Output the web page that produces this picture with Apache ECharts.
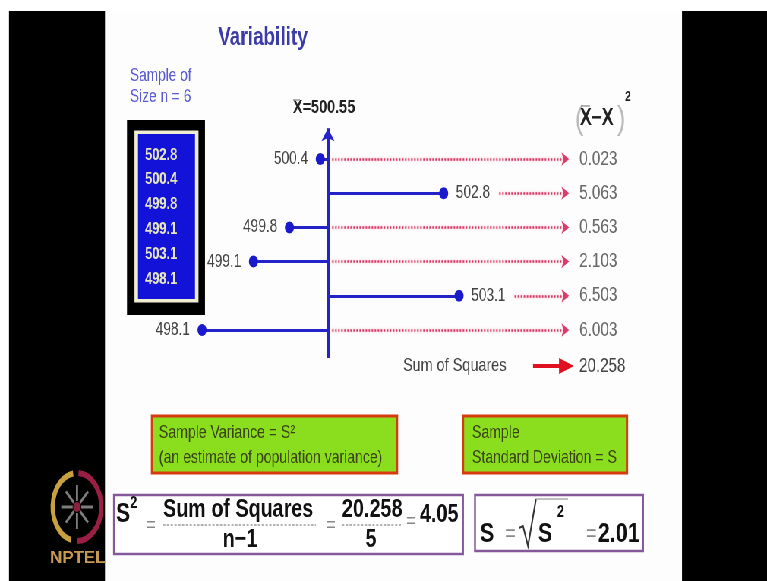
<!DOCTYPE html>
<html><head><meta charset="utf-8">
<script src="https://cdn.jsdelivr.net/npm/echarts@6/dist/echarts.min.js"></script>
<style>
html,body{margin:0;padding:0;background:#fff;overflow:hidden;}
#wrap{width:767px;height:581px;overflow:hidden;position:relative;}
#chart{width:1010px;height:581px;transform:scaleX(0.759406);transform-origin:0 0;}
</style></head>
<body><div id="wrap"><div id="chart"></div></div>
<script>
// ---- data ----
const rowValues = [500.4, 502.8, 499.8, 499.1, 503.1, 498.1];      // plotted rows, top to bottom
const sampleValues = [502.8, 500.4, 499.8, 499.1, 503.1, 498.1];   // list in the sample box
const squaredDeviations = ['0.023', '5.063', '0.563', '2.103', '6.503', '6.003'];
const meanValue = 500.55;
const sampleSize = 6;
const sumOfSquares = '20.258';
const divisorText = '5';
const varianceText = '4.05';
const sdText = '2.01';

// ---- layout helpers (slide is squeezed horizontally) ----
const SQ = 767 / 1010;
const X = p => p / SQ;
const FONT = '"Liberation Sans", Arial, sans-serif';
const ARROW_END = 505.24;

function rect(x, y, w, h, fill, stroke, lw, z) {
  return { type: 'rect', silent: true, z: z || 0, shape: { x: X(x), y: y, width: X(w), height: h },
    style: { fill: fill || 'none', stroke: stroke || 'none', lineWidth: lw || 0 } };
}
function txt(x, y, text, size, o) {
  o = o || {};
  return { type: 'text', silent: true, x: X(x), y: y, z: o.z || 6, scaleX: o.sx || 1,
    style: { text: text, fontSize: size, fontWeight: o.w || 'normal', fontFamily: FONT,
      fill: o.c || '#222', align: o.a || 'left', textAlign: o.a || 'left',
      verticalAlign: 'middle', textVerticalAlign: 'middle' } };
}
function seg(x1, y1, x2, y2, color, lw, dash, z) {
  return { type: 'line', silent: true, z: z || 6, shape: { x1: X(x1), y1: y1, x2: X(x2), y2: y2 },
    style: { stroke: color, lineWidth: lw, lineDash: dash || null } };
}

const g = [];
// frame
g.push(rect(105, 11, 577, 570, '#fdfdfd'));
g.push(rect(9, 11, 96, 570, '#000'));
g.push(rect(682, 11, 90, 570, '#000'));
// title
g.push(txt(263, 38, 'Variability', 25, { w: 'bold', c: '#3c3ca8', a: 'center' }));
g.push(txt(130, 76, 'Sample of', 18, { c: '#5a5ad2' }));
g.push(txt(130, 97, 'Size n = ' + sampleSize, 18, { c: '#5a5ad2' }));
// sample box
g.push(rect(127, 120, 78, 195, '#000'));
g.push(rect(134.5, 130.5, 64, 172, '#efeed2'));
g.push(rect(138, 134, 57, 165, '#1212d8'));
sampleValues.forEach((v, i) => g.push(txt(145, 155 + i * 24.8, v.toFixed(1), 17, { w: 'bold', c: '#e6e6c0' })));
// mean label
g.push(txt(293, 108, 'X=' + meanValue.toFixed(2), 19, { w: 'bold', c: '#222' }));
g.push(seg(293, 100, 300, 100, '#999', 1.5));
// header (Xbar - X)^2
g.push(txt(575, 120, '(', 34, { c: '#bbb' }));
g.push(txt(580, 119, 'X\u2212X', 23, { w: 'bold', c: '#222' }));
g.push(seg(581, 106, 590, 106, '#999', 1.5));
g.push(txt(617, 120, ')', 34, { c: '#bbb' }));
g.push(txt(625, 97, '2', 14, { w: 'bold', c: '#222' }));
// sum of squares row
g.push(txt(403, 366, 'Sum of Squares', 19, { c: '#444' }));
g.push(seg(533, 366, 563, 366, '#e01020', 4));
g.push({ type: 'polygon', silent: true, z: 6, shape: { points: [[X(559), 358], [X(574), 366], [X(559), 374]] }, style: { fill: '#e01020' } });
g.push(txt(579, 366, sumOfSquares, 20, { c: '#444' }));
// green boxes
g.push(rect(152, 416, 245, 57, '#8ade1e', '#d83a10', 3, 1));
g.push(txt(159, 433, 'Sample Variance = S\u00B2', 18.5, { c: '#3a4418' }));
g.push(txt(159, 458, '(an estimate of population variance)', 18.5, { c: '#3a4418' }));
g.push(rect(463, 416, 164, 57, '#8ade1e', '#d83a10', 3, 1));
g.push(txt(472, 433, 'Sample', 18.5, { c: '#3a4418' }));
g.push(txt(472, 458, 'Standard Deviation = S', 18.5, { c: '#3a4418' }));
// formula box 1
g.push(rect(114, 495, 349, 59, '#fff', '#84589a', 2.5, 1));
g.push(txt(116, 514, 'S', 28, { w: 'bold', c: '#111' }));
g.push(txt(130, 503, '2', 17, { w: 'bold', c: '#111' }));
g.push(txt(146, 526, '=', 22, { c: '#888' }));
g.push(txt(163, 510, 'Sum of Squares', 26, { w: 'bold', c: '#111' }));
g.push(seg(163, 525, 316, 525, '#999', 1.5, [3, 2]));
g.push(txt(240, 540, 'n\u22121', 26, { w: 'bold', c: '#111', a: 'center' }));
g.push(txt(326, 526, '=', 22, { c: '#888' }));
g.push(txt(342, 510, sumOfSquares, 26, { w: 'bold', c: '#111' }));
g.push(seg(342, 525, 401, 525, '#999', 1.5, [3, 2]));
g.push(txt(371, 540, divisorText, 26, { w: 'bold', c: '#111', a: 'center' }));
g.push(txt(406, 522, '=', 22, { c: '#888' }));
g.push(txt(420, 515, varianceText, 26, { w: 'bold', c: '#111' }));
// formula box 2
g.push(rect(475, 495, 168, 56, '#fff', '#84589a', 2.5, 1));
g.push(txt(480, 534, 'S', 28, { w: 'bold', c: '#111' }));
g.push(txt(505, 534, '=', 24, { c: '#888' }));
g.push({ type: 'polyline', silent: true, z: 6,
  shape: { points: [[X(519), 528], [X(523), 526], [X(528), 546], [X(536), 499]] },
  style: { stroke: '#333', lineWidth: 2, fill: 'none' } });
g.push(seg(536, 499, 568, 499, '#aaa', 1.5));
g.push(txt(538, 534, 'S', 28, { w: 'bold', c: '#111' }));
g.push(txt(557, 512, '2', 17, { w: 'bold', c: '#111' }));
g.push(txt(586, 534, '=', 24, { c: '#888' }));
g.push(txt(598, 534, sdText, 28, { w: 'bold', c: '#111' }));
// NPTEL logo
g.push({ type: 'arc', silent: true, z: 3, x: X(77), y: 507, scaleX: 0.94,
  shape: { cx: 0, cy: 0, r: 34, startAngle: Math.PI * 0.58, endAngle: Math.PI * 1.45, clockwise: true },
  style: { stroke: '#c9a040', lineWidth: 6, fill: 'none' } });
g.push({ type: 'arc', silent: true, z: 3, x: X(77), y: 507, scaleX: 0.94,
  shape: { cx: 0, cy: 0, r: 34, startAngle: Math.PI * 1.52, endAngle: Math.PI * 2.5, clockwise: true },
  style: { stroke: '#9a1f45', lineWidth: 6, fill: 'none' } });
for (let k = 0; k < 8; k++) {
  const a = k * Math.PI / 4;
  g.push({ type: 'line', silent: true, z: 3, x: X(77), y: 507, scaleX: 0.94,
    shape: { x1: Math.cos(a) * 6, y1: Math.sin(a) * 6, x2: Math.cos(a) * 22, y2: Math.sin(a) * 22 },
    style: { stroke: '#7d7d7d', lineWidth: 3 } });
}
g.push({ type: 'circle', silent: true, z: 3, x: X(77), y: 507, shape: { cx: 0, cy: 0, r: 5 }, style: { fill: '#8a2040' } });
g.push(txt(50, 558, 'NPTEL', 17, { w: 'bold', c: '#c89a50', sx: 1 / SQ }));

const chart = echarts.init(document.getElementById('chart'), null, { renderer: 'canvas' });
chart.setOption({
  animation: false,
  backgroundColor: '#ffffff',
  grid: { left: X(94.13), width: X(514), top: 107.7, height: 266.76 },
  xAxis: { type: 'value', min: 496, max: 506, show: false },
  yAxis: { type: 'value', inverse: true, min: -1.5, max: 6.3, show: false },
  graphic: { elements: g },
  series: [
    { type: 'lines', coordinateSystem: 'cartesian2d', z: 3, silent: true,
      lineStyle: { color: '#2323c8', width: 3, opacity: 1 },
      data: rowValues.map((v, i) => ({ coords: [[meanValue, i], [v, i]] })) },
    { type: 'lines', coordinateSystem: 'cartesian2d', z: 4, silent: true,
      symbol: ['none', 'arrow'], symbolSize: 13,
      lineStyle: { color: '#2323c8', width: 4, opacity: 1 },
      data: [{ coords: [[meanValue, 5.82], [meanValue, -0.9]] }] },
    { type: 'lines', coordinateSystem: 'cartesian2d', z: 3, silent: true,
      symbol: ['none', 'arrow'], symbolSize: 10,
      lineStyle: { color: '#d83c68', width: 2.5, type: [2, 2], opacity: 1,
        shadowColor: 'rgba(235,120,150,0.6)', shadowBlur: 3 },
      data: rowValues.map((v, i) => ({ coords: [[v > meanValue ? v + 1.08 : meanValue + 0.08, i], [ARROW_END, i]] })) },
    { type: 'scatter', z: 5, symbolSize: 12, silent: true,
      itemStyle: { color: '#1a1acc', opacity: 1 },
      label: { show: true, distance: 10, fontSize: 18, color: '#444', fontFamily: FONT,
        formatter: p => p.value[0].toFixed(1) },
      data: rowValues.map((v, i) => ({ value: [v, i], label: { position: v < meanValue ? 'left' : 'right' } })) },
    { type: 'scatter', z: 5, symbolSize: 1, silent: true,
      itemStyle: { color: 'rgba(0,0,0,0)' },
      label: { show: true, position: 'right', distance: 13, fontSize: 20, color: '#444', fontFamily: FONT,
        formatter: p => squaredDeviations[p.dataIndex] },
      data: squaredDeviations.map((s, i) => [ARROW_END, i]) }
  ]
});
</script>
</body></html>
